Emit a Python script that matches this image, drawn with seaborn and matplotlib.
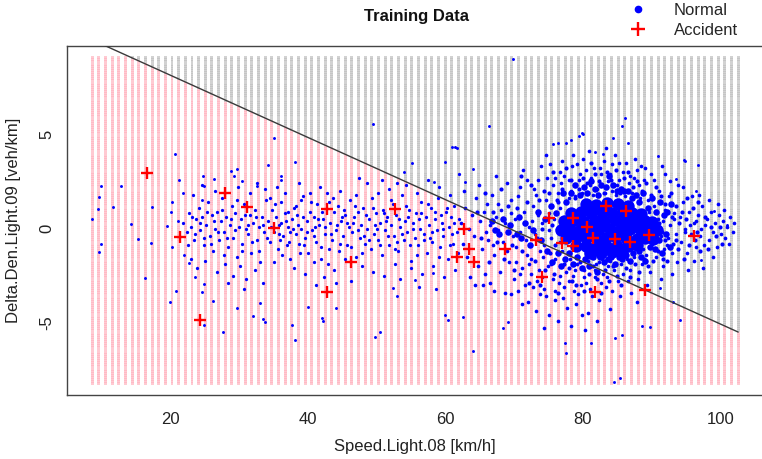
import numpy as np
import pandas as pd
import matplotlib
matplotlib.use("Agg")
import matplotlib.pyplot as plt
import seaborn as sns
from matplotlib.lines import Line2D

sns.set_style("white")
plt.rcParams["font.family"] = ["Liberation Sans", "DejaVu Sans"]
plt.rcParams["axes.unicode_minus"] = False

# ---------------- data ----------------
title = "Training Data"
x_label = "Speed.Light.08 [km/h]"
y_label = "Delta.Den.Light.09 [veh/km]"
legend_labels = ["Normal", "Accident"]
x_ticks = [20, 40, 60, 80, 100]
y_ticks = [-5, 0, 5]
x_limits = (4.9, 106.5)
y_limits = (-8.84, 9.69)

# decision boundary (y = intercept + slope * x)
boundary_intercept = 11.43
boundary_slope = -0.165

# decision-surface grid extent
grid_x_range = (8.55, 102.6)
grid_y_range = (-8.25, 9.07)
grid_columns = 98
grid_rows = 155

accident = [(16.6, 2.95), (21.4, -0.47), (27.9, 1.90), (31.1, 1.12), (35.0, 0.01),
            (24.2, -4.87), (42.8, 1.02), (42.8, -3.35), (46.2, -1.79), (52.7, 1.02),
            (62.7, -0.04), (63.4, -1.10), (61.6, -1.53), (64.2, -1.76), (68.6, -1.10),
            (73.1, -0.61), (74.1, -2.59), (75.1, 0.54), (76.9, -0.75), (78.6, 0.54),
            (78.6, -0.93), (80.6, 0.06), (81.5, -0.49), (81.7, -3.39), (83.3, 1.19),
            (84.6, -0.56), (86.3, 0.94), (86.8, -0.73), (89.0, -3.26), (89.6, -0.35),
            (96.2, -0.40)]

normal_outliers = [
    (8.6, 0.49), (9.4, 1.03), (9.5, 1.66), (9.8, 2.26), (9.8, -0.82), (9.5, -1.23), (11.6, 1.16),
    (12.7, 2.26), (14.2, 0.24), (15.3, -0.57), (17.1, -0.75), (17.2, 1.16), (16.2, -2.64),
    (19.9, -3.92), (20.7, -3.32), (20.6, 3.95), (19.4, 0.15), (20.2, 1.41), (20.1, 0.89),
    (21.1, 0.41), (20.2, -0.97), (21.9, -1.42), (21.2, 2.57), (21.8, 1.87), (24.7, 2.80),
    (26.3, 2.61), (28.7, 3.05), (29.7, 3.14), (29.2, 2.80), (30.4, 2.54), (32.5, 2.26),
    (24.9, 2.26), (24.5, 1.51), (22.7, -1.85), (27.6, -5.49), (24.9, -5.10), (24.6, -3.37),
    (26.2, -3.83), (24.9, -2.95), (23.6, -2.56), (29.6, -4.24), (32.0, -4.64), (33.0, -3.97),
    (49.4, 5.53), (35.0, 4.82), (60.9, 4.34), (55.1, 3.46), (59.9, 3.51), (54.0, 2.98),
    (58.3, 2.48), (34.2, 3.37), (38.1, 3.55), (36.0, 2.80), (36.1, 2.60), (33.4, -4.80),
    (33.7, -4.95), (37.6, -5.12), (38.1, -5.92), (42.0, -4.75), (42.1, -4.90), (44.1, -4.24),
    (40.0, -4.18), (49.7, -5.78), (50.4, -5.48), (52.4, -3.18), (52.9, -3.60), (59.9, -4.60),
    (60.3, -4.86), (58.2, -2.38), (55.6, -2.73), (62.5, -4.72), (64.0, -6.49), (68.4, -5.30),
    (69.1, -4.94), (77.4, -6.09), (77.6, -6.62), (81.2, -6.09), (84.5, -8.13), (85.4, -7.95),
    (84.6, -5.83), (85.7, -5.65), (88.6, -5.17), (89.7, -5.21), (94.1, -4.86), (93.1, -3.88),
    (91.2, -3.18), (97.2, -1.67), (66.3, 5.44), (85.7, 5.44), (80.0, 5.02), (79.4, 4.90),
    (61.4, 4.34), (76.3, 4.52), (77.6, 4.55), (90.9, 3.87), (94.8, 3.58), (81.7, 4.08),
    (82.9, 3.98), (64.0, 3.14), (62.8, 2.48), (93.6, 2.61), (96.5, 2.00), (99.1, 0.94),
    (100.9, 0.19), (69.8, 8.98), (61.6, 4.27), (86.1, 5.85), (79.8, 5.05), (78.3, 4.70),
    (75.6, 4.49), (86.6, 4.52), (94.7, 3.64), (96.8, 3.37), (84.4, 4.82)]

normal_band = [
    (21.8, 0.3), (22.3, -0.2), (22.6, 0.8), (23.0, 0.1), (23.4, -0.6), (23.7, 0.5), (24.1, 1.1),
    (24.3, -0.1), (24.6, 0.6), (24.9, -0.9), (25.2, 0.2), (25.4, 1.4), (25.7, -0.4), (26.0, 0.7),
    (26.2, -1.2), (26.5, 0.0), (26.8, 0.9), (27.0, -0.6), (27.3, 0.4), (27.5, 1.6), (27.8, -0.2),
    (28.1, 0.6), (28.3, -1.0), (28.6, 0.2), (28.9, 1.2), (29.1, -0.5), (29.4, 0.8), (29.6, -1.5),
    (29.9, 0.1), (30.2, 0.5), (30.4, -0.8), (30.7, 1.3), (30.9, 0.0), (31.2, -0.3), (31.5, 0.7),
    (31.7, -1.3), (32.0, 0.3), (32.3, 1.0), (32.5, -0.6), (32.8, 0.1), (33.0, -1.8), (33.3, 0.6),
    (33.6, -0.2), (33.9, 1.5), (22.9, -1.6), (23.8, -2.1), (25.0, -1.7), (26.7, -2.3),
    (27.9, -1.9), (29.0, -2.5), (30.1, -2.0), (31.0, -2.7), (32.2, -2.2), (33.4, -2.9),
    (28.4, -2.9), (30.6, -3.2), (23.3, 1.8), (26.4, 2.0), (29.8, 2.2), (32.6, 2.4), (31.6, 1.9),
    (24.5, 2.3), (33.7, 2.1),
    (34.2, 0.4), (34.5, -0.7), (34.8, 1.0), (35.0, -0.2), (35.3, 0.6), (35.6, -1.1), (35.8, 0.2),
    (36.1, 1.4), (36.3, -0.4), (36.6, 0.8), (36.9, -0.9), (37.1, 0.1), (37.4, -1.6), (37.6, 0.5),
    (37.9, 1.1), (38.2, -0.3), (38.4, 0.7), (38.7, -0.8), (39.0, 0.0), (39.2, 1.7), (39.5, -0.5),
    (39.8, 0.4), (40.0, -1.3), (40.3, 0.9), (40.5, -0.1), (40.8, 0.6), (41.1, -0.7), (41.3, 1.3),
    (41.6, 0.2), (41.9, -1.0), (42.1, 0.5), (42.4, -0.3), (42.7, 1.9), (42.9, -1.9), (43.2, 0.3),
    (43.5, -0.6), (43.7, 0.9), (44.0, -0.1), (44.3, 1.2), (44.5, -1.2), (44.8, 0.4), (45.1, -0.4),
    (45.3, 0.7), (45.6, -0.9), (45.9, 0.1), (46.1, 1.5), (46.4, -0.2), (46.7, 0.6), (46.9, -1.5),
    (47.2, 0.9), (47.5, -0.5), (47.7, 0.2), (48.0, 1.1), (48.3, -0.8), (48.5, 0.0), (48.8, 0.5),
    (49.1, -1.1), (49.3, 1.6), (49.6, -0.3), (49.9, 0.8), (50.1, -0.6), (50.4, 0.3), (50.7, -1.4),
    (50.9, 1.0), (51.2, -0.1), (51.5, 0.6), (51.7, -0.9), (52.0, 0.2), (52.3, 1.3), (52.5, -0.4),
    (52.8, 0.7), (53.1, -1.2), (53.3, 0.1), (53.6, 1.8), (53.9, -0.6), (54.1, 0.4), (54.4, -0.2),
    (54.7, 1.0), (54.9, -1.7), (55.2, 0.3), (55.5, -0.5), (55.7, 0.8), (56.0, -0.9), (56.3, 0.0),
    (56.5, 1.4), (56.8, -0.3), (57.1, 0.6), (57.3, -1.3), (57.6, 0.2), (57.9, 1.1), (58.1, -0.7),
    (58.4, 0.5), (58.7, -0.1), (58.9, 1.6), (59.2, -1.0), (59.5, 0.3), (59.7, -0.4), (60.0, 0.9),
    (60.3, -1.6), (60.5, 0.1), (60.8, 0.6), (61.1, -0.8), (61.3, 1.2), (61.6, -0.2), (61.9, 0.5),
    (34.4, 1.6), (35.1, -1.8), (35.9, -0.6), (36.7, 1.9), (37.3, -0.2), (38.0, -2.1), (38.9, 1.5),
    (39.6, -2.4), (40.2, 1.9), (40.9, -1.8), (41.7, 2.2), (42.3, -2.6), (43.0, 1.4), (43.8, -2.2),
    (44.6, 2.0), (45.4, -1.6), (46.2, -2.8), (47.0, 1.8), (47.8, -2.0), (48.6, 2.4), (49.4, -2.3),
    (50.2, 1.9), (51.0, -2.5), (51.8, 2.1), (52.6, -1.9), (53.4, -2.7), (54.2, 2.3), (55.0, -2.1),
    (55.8, 1.9), (56.6, -2.4), (57.4, 2.6), (58.2, -2.0), (59.0, 2.2), (59.8, -2.6), (60.6, 1.8),
    (61.4, -2.2), (36.0, 0.3), (37.0, 0.9), (38.5, 0.2), (39.4, -0.9), (41.0, 0.1), (42.0, 0.9),
    (43.4, -0.3), (44.9, 0.6), (46.5, 0.3), (48.1, -0.4), (49.7, 0.2), (51.3, 0.4), (52.9, -0.7),
    (54.5, 0.6), (56.1, 0.5), (57.7, -0.5), (59.3, 0.7), (60.9, -0.3)]

normal_band_extra = [
    (22.5, -0.9), (23.1, 0.6), (23.6, -0.3), (24.2, 0.3), (24.8, -0.5), (25.3, 0.9), (25.9, -0.8),
    (26.3, 0.4), (26.9, -0.2), (27.4, 1.0), (27.7, -1.4), (28.2, -0.5), (28.8, 0.5), (29.3, -0.1),
    (29.7, 1.5), (30.3, -1.2), (30.8, 0.7), (31.3, 0.2), (31.9, -0.7), (32.4, 0.6), (32.9, -1.2),
    (33.5, 0.2), (34.0, -0.5), (34.6, 0.1), (35.2, 1.3), (35.7, -0.3), (36.2, -1.4), (36.8, 0.4),
    (37.2, -0.7), (37.8, 0.0), (38.3, 1.2), (38.8, -1.3), (39.3, 0.6), (39.9, -0.2), (40.4, 1.4),
    (40.9, -0.4), (41.4, 0.5), (41.8, -1.6), (42.5, 0.1), (43.1, -1.1), (43.6, 1.6), (44.2, 0.2),
    (44.7, -0.8), (45.2, 1.0), (45.7, 0.3), (46.3, -1.0), (46.8, 1.2), (47.3, -0.1), (47.9, -1.3),
    (48.4, 0.7), (48.9, -0.6), (49.5, 1.1), (50.0, 0.0), (50.5, -0.9), (51.1, 0.8), (51.6, -0.4),
    (52.1, 1.5), (52.7, -1.1), (53.2, 0.5), (53.7, -0.3), (54.3, 1.2), (54.8, -0.9), (55.3, 0.0),
    (55.9, -1.4), (56.4, 0.8), (56.9, -0.6), (57.5, 1.3), (58.0, -0.2), (58.5, 0.9), (59.1, -1.5),
    (59.6, 0.0), (60.2, 1.1), (60.7, -0.9), (61.2, 0.3), (61.8, -1.3), (38.6, 2.4), (44.1, -2.9),
    (50.8, 2.6), (56.2, -3.1), (47.4, 2.7), (53.0, 2.4), (41.2, -3.0), (58.6, -3.2), (35.5, 2.2),
    (62.0, 2.9)]

normal_halo = [
    (62.2, 0.3), (62.5, -0.8), (62.9, 1.1), (63.1, -1.5), (63.4, 0.0), (63.8, 0.7), (64.1, -0.4),
    (64.4, 1.6), (64.7, -2.0), (65.0, 0.4), (65.3, -1.1), (65.6, 0.9), (65.9, -0.2), (62.7, 2.0),
    (63.6, -2.6), (64.9, 2.3), (65.5, -3.0), (66.0, 1.3),
    (66.2, -0.6), (66.5, 0.2), (66.8, 1.8), (67.0, -1.4), (67.3, 0.6), (67.6, -0.1), (67.9, -2.3),
    (68.1, 1.0), (68.4, -0.7), (68.7, 0.3), (69.0, 2.4), (69.2, -1.8), (69.5, 0.8), (69.8, -0.4),
    (66.4, -2.9), (67.4, 2.8), (68.6, -3.4), (69.6, 1.5), (66.9, -0.9), (68.9, -1.2), (67.7, 1.3),
    (69.9, -2.7),
    (70.1, 0.5), (70.3, -1.0), (70.6, 1.7), (70.9, -0.2), (71.1, -2.1), (71.4, 0.9), (71.7, -0.6),
    (71.9, 2.6), (72.2, 0.1), (72.5, -1.6), (72.7, 1.2), (73.0, -0.3), (73.3, -2.8), (73.5, 0.7),
    (73.8, -1.2), (70.5, -3.3), (71.3, 3.1), (72.0, -3.9), (72.9, 2.1), (73.9, 3.3), (70.8, 2.2),
    (71.8, -1.4), (72.4, -2.4), (73.7, -3.5), (70.2, -1.8), (72.6, 0.4), (73.2, 1.8),
    (74.1, 0.3), (74.3, -0.9), (74.6, 1.5), (74.9, -2.0), (75.1, 0.8), (75.4, -0.5), (75.7, 2.3),
    (75.9, -1.6), (76.2, 0.0), (76.5, -2.9), (76.7, 1.1), (77.0, -1.2), (77.3, 2.8), (77.5, -2.3),
    (77.8, 0.6), (74.4, -3.2), (75.2, 3.4), (76.0, -3.8), (76.9, 3.6), (77.7, -4.2), (74.8, 2.7),
    (75.6, -2.7), (76.4, 1.9), (77.2, -3.1), (74.2, -1.5), (75.0, -0.1), (76.6, -0.7), (77.9, 1.6),
    (76.8, 2.4), (75.8, 0.5),
    (78.1, -1.6), (78.3, 2.0), (78.6, -2.5), (78.9, 1.7), (79.1, -1.9), (79.4, 2.6), (79.7, -3.0),
    (79.9, 1.9), (80.2, -2.2), (80.5, 3.1), (80.7, -1.7), (81.0, 2.3), (81.3, -3.6), (81.5, 1.8),
    (81.8, -2.6), (78.4, 3.3), (79.0, -4.0), (80.0, 3.7), (80.8, -4.5), (81.6, 3.2), (78.7, -3.3),
    (79.6, 2.9), (80.4, -2.9), (81.2, 2.7), (81.9, -1.9),
    (82.1, 2.1), (82.4, -1.8), (82.6, 2.9), (82.9, -2.4), (83.2, 1.9), (83.4, -3.1), (83.7, 2.5),
    (84.0, -1.7), (84.3, 3.4), (84.5, -2.2), (84.8, 1.8), (85.1, -2.8), (85.3, 2.6), (85.6, -1.9),
    (85.9, 3.0), (82.3, -3.8), (83.0, 3.6), (83.9, -4.3), (84.7, 3.9), (85.4, -3.6), (82.8, -1.6),
    (83.6, -2.0), (84.2, 2.0), (85.0, 2.3), (85.8, -2.4),
    (86.1, 1.7), (86.4, -1.6), (86.7, 2.4), (86.9, -2.2), (87.2, 1.9), (87.5, -1.5), (87.8, 3.1),
    (88.0, -2.7), (88.3, 1.6), (88.6, -1.9), (88.9, 2.6), (89.2, -1.4), (89.5, 1.5), (89.8, -2.3),
    (86.3, 3.5), (87.0, -3.4), (87.9, -3.9), (88.4, 3.3), (89.3, -3.0), (89.9, 2.9), (86.6, -2.8),
    (87.4, 2.7), (88.8, -1.1), (89.6, 0.9), (86.8, 1.2),
    (90.1, -0.8), (90.3, 1.2), (90.6, -1.5), (90.9, 0.5), (91.1, 2.0), (91.4, -0.4), (91.7, -2.0),
    (91.9, 1.0), (92.2, -0.9), (92.5, 1.7), (92.7, 0.2), (93.0, -1.3), (93.3, 0.8), (93.5, -0.3),
    (93.8, 2.3), (90.4, 2.6), (91.3, -2.7), (92.0, 2.9), (92.9, -2.4), (93.7, -1.8), (90.8, -0.1),
    (91.6, 0.4), (92.4, -0.5), (93.2, 0.5), (90.2, 0.2), (91.8, -1.1),
    (94.1, 0.6), (94.3, -0.7), (94.6, 1.4), (94.9, 0.0), (95.1, -1.3), (95.4, 0.9), (95.7, -0.3),
    (95.9, 1.7), (96.2, 0.3), (96.5, -1.0), (96.7, 0.7), (97.0, -0.4), (97.3, 1.2), (97.5, -2.1),
    (97.8, 0.2), (94.5, 2.2), (95.3, -2.2), (96.1, -1.7), (96.9, 1.8), (97.6, -0.9), (94.8, -0.2),
    (95.6, 0.2), (96.4, 0.4), (97.2, 0.0),
    (98.1, 0.5), (98.4, -0.6), (98.7, 0.9), (98.9, -0.2), (99.2, 0.3), (99.5, -1.0), (99.8, 0.7),
    (100.1, -0.3), (100.4, 0.4), (100.7, -0.5), (101.0, 0.1), (101.4, 0.6), (101.8, -0.2),
    (98.3, 1.5), (99.0, -1.5), (99.7, 1.3), (100.5, 1.0), (101.2, -0.8), (102.0, 0.3),
    (70.9, -2.4), (71.6, -3.0), (72.1, -1.9), (72.8, -3.1), (73.6, -2.2), (74.0, -2.6), (74.6, -3.6),
    (75.3, -1.9), (75.9, -3.3), (76.6, -2.5), (77.1, -3.7), (78.0, -2.8), (78.9, -2.2), (79.3, -3.5),
    (80.1, -2.6), (81.0, -3.2), (81.7, -2.2), (82.6, -2.9), (83.5, -2.6), (84.2, -3.3), (73.1, -4.4),
    (75.0, -4.6), (76.3, -4.9), (78.2, -5.2), (80.3, -5.4), (82.0, -4.9), (79.8, -4.6), (74.3, -5.3),
    (71.2, -4.0), (69.6, -3.5), (67.1, -3.3), (65.8, -2.4), (64.3, -3.0),
    (74.6, 3.9), (76.6, 3.0), (78.6, 3.9), (80.9, 4.1), (83.3, 4.3), (85.2, 3.5), (87.6, 3.7),
    (89.1, 3.2), (91.5, 3.3), (92.6, 2.5), (79.1, 3.4), (82.5, 3.2), (84.0, 2.9), (86.9, 2.8),
    (88.2, 2.3), (77.9, 2.6), (75.9, 2.7), (73.4, 2.6)]

normal_cloud = [
    (64.6, 0.9), (65.2, -0.5), (65.8, 1.9), (66.3, -1.8), (66.9, 0.9), (67.5, -0.7), (68.0, 2.1),
    (68.5, -1.6), (69.1, 1.2), (69.7, -0.9), (70.0, -2.2), (70.4, 1.1), (71.0, 2.8), (71.2, -1.2),
    (71.9, 1.4), (72.1, -2.9), (72.5, 2.3), (73.0, -1.7), (73.6, 1.5), (73.8, -3.0), (74.3, 2.0),
    (74.5, -2.2), (75.0, 1.9), (75.2, -1.3), (75.6, 3.0), (75.8, -2.4), (76.2, 1.5), (76.4, -3.4),
    (76.9, 2.1), (77.2, -1.9), (77.5, 3.2), (77.9, -2.1), (78.2, 2.6), (78.4, -2.8), (78.8, 1.6),
    (79.0, -3.0), (79.4, 2.1), (79.6, -1.8), (80.0, 2.7), (80.2, -3.3), (80.6, 2.4), (80.9, -2.4),
    (81.2, 3.5), (81.4, -2.0), (81.8, 2.9), (82.0, -2.7), (82.4, 2.5), (82.6, -3.4), (83.0, 1.9),
    (83.2, -2.2), (83.5, 3.0), (83.8, -2.8), (84.1, 2.6), (84.4, -2.0), (84.8, 3.1), (85.0, -2.5),
    (85.4, 1.9), (85.6, -3.0), (86.0, 2.7), (86.3, -2.1), (86.6, 3.0), (86.9, -2.6), (87.3, 2.2),
    (87.6, -1.9), (87.9, 2.5), (88.2, -2.3), (88.6, 2.0), (88.9, -1.6), (89.2, 2.4), (89.5, -2.0),
    (89.9, 1.8), (90.2, -1.7), (90.6, 2.2), (90.9, -1.2), (91.3, 1.7), (91.6, -1.6), (92.0, 1.3),
    (92.3, -1.7), (92.8, 1.9), (93.1, -0.8), (93.6, 1.2), (93.9, -1.1), (94.4, 0.9), (94.7, -1.6),
    (95.2, 1.6), (95.5, -0.9), (96.0, 1.1), (96.3, -0.6), (96.8, 1.4), (97.1, -1.2), (97.7, 0.6),
    (98.2, -1.1), (98.6, 0.1), (99.3, -0.4), (99.9, 0.1), (100.3, -0.8), (74.0, 0.0), (75.5, 0.2),
    (73.3, -0.5), (76.0, -0.9), (76.3, 1.4), (91.5, -0.2), (92.9, 0.6), (91.0, 0.3), (92.0, -0.6),
    (94.0, 0.3), (95.0, 0.5), (96.6, -0.2), (93.5, -0.6)]

normal_inner = [
    (72.3, -0.9), (72.8, -0.1), (73.4, 0.9), (73.9, -0.6), (74.5, 0.5), (74.7, -1.2), (75.3, 1.2),
    (75.5, -1.8), (76.1, 0.8), (76.3, -1.3), (76.8, -2.0), (77.1, 1.9), (77.4, -1.6), (77.6, 1.4),
    (78.0, -1.3), (78.2, 1.9), (78.5, -1.9), (78.8, 2.3), (79.2, -1.5), (79.5, 1.8), (79.8, -2.1),
    (80.1, 2.2), (80.3, -1.6), (80.6, 1.9), (80.9, -2.0), (81.1, 2.5), (81.4, -1.5), (81.7, 2.1),
    (82.0, -2.3), (82.2, 1.8), (82.5, -1.5), (82.7, 2.3), (83.1, -1.8), (83.3, 2.2), (83.6, -1.6),
    (83.8, 2.8), (84.1, -1.5), (84.4, 2.3), (84.6, -1.9), (84.9, 2.0), (85.2, -1.5), (85.5, 2.1),
    (85.7, -1.6), (86.0, 2.0), (86.2, -1.4), (86.5, 2.0), (86.9, -1.7), (87.1, 1.6), (87.3, -1.3),
    (87.7, 1.8), (88.1, -1.2), (88.2, 1.4), (88.5, -1.5), (88.7, 1.9), (89.0, -1.7), (89.4, 1.1),
    (89.7, -1.0), (90.0, 1.6), (90.5, -1.1), (90.7, 0.9), (91.0, -0.6), (91.2, 1.4), (91.5, -1.3),
    (91.8, 0.7), (92.1, -0.3), (92.3, 0.9), (92.6, -1.0), (92.8, 1.3), (71.5, 0.3), (71.0, -0.5),
    (70.7, 0.6), (70.4, -0.3), (69.4, 0.2), (69.1, -0.2), (68.3, 0.5), (67.8, -0.3), (67.2, -0.1),
    (66.7, 0.4)]

normal_core = [
    (80.4, 1.32), (81.9, 1.25), (83.5, 1.36), (85.1, 1.28), (86.6, 1.22),
    (78.2, 0.82), (79.7, 0.90), (81.2, 0.84), (82.8, 0.88), (84.3, 0.81), (85.8, 0.90),
    (87.2, 0.83), (88.5, 0.78),
    (77.3, 0.38), (78.7, 0.44), (80.2, 0.37), (81.7, 0.42), (83.1, 0.40), (84.6, 0.45),
    (86.1, 0.36), (87.6, 0.41), (89.0, 0.38), (90.1, 0.33),
    (76.8, -0.06), (78.1, -0.02), (79.5, -0.08), (81.0, -0.03), (82.4, -0.05), (83.9, -0.01),
    (85.4, -0.07), (86.9, -0.04), (88.3, -0.02), (89.7, -0.06), (90.8, -0.10),
    (77.6, -0.50), (79.0, -0.47), (80.4, -0.53), (81.9, -0.49), (83.3, -0.52), (84.8, -0.46),
    (86.3, -0.50), (87.8, -0.54), (89.1, -0.48), (90.2, -0.55),
    (79.0, -0.92), (80.5, -0.95), (82.0, -0.90), (83.5, -0.96), (85.0, -0.91), (86.5, -0.94),
    (87.8, -0.90),
    (81.0, -1.28), (82.6, -1.32), (84.2, -1.27), (85.7, -1.30)]

# ---------------- figure ----------------
W, H = 762, 459
fig = plt.figure(figsize=(W / 100, H / 100), dpi=100)
ax = fig.add_axes([67 / W, 64 / H, 698 / W, 349 / H])

gx = np.linspace(grid_x_range[0], grid_x_range[1], grid_columns)
gy = np.linspace(grid_y_range[0], grid_y_range[1], grid_rows)
GX, GY = np.meshgrid(gx, gy)
above = GY > boundary_intercept + boundary_slope * GX
grid_df = pd.DataFrame({"x": GX.ravel(), "y": GY.ravel(),
                        "cls": np.where(above.ravel(), "Normal", "Accident")})
sns.scatterplot(data=grid_df, x="x", y="y", hue="cls",
                palette={"Normal": "#C0C0C0", "Accident": "#FFB4C0"},
                marker="s", s=4.6, linewidth=0, alpha=0.7, legend=False, ax=ax, zorder=1)

def frame(pts):
    return pd.DataFrame(pts, columns=["x", "y"])

blue = "#0000FF"
sns.scatterplot(data=frame(normal_core), x="x", y="y", color=blue, s=80,
                linewidth=0, ax=ax, zorder=2)
sns.scatterplot(data=frame(normal_inner), x="x", y="y", color=blue, s=22,
                linewidth=0, ax=ax, zorder=2)
sns.scatterplot(data=frame(normal_cloud), x="x", y="y", color=blue, s=9,
                linewidth=0, ax=ax, zorder=3)
sns.scatterplot(data=frame(normal_halo), x="x", y="y", color=blue, s=7,
                linewidth=0, ax=ax, zorder=3)
for pts in (normal_band, normal_band_extra):
    sns.scatterplot(data=frame(pts), x="x", y="y", color=blue, s=5.5,
                    linewidth=0, ax=ax, zorder=3)
sns.scatterplot(data=frame(normal_outliers), x="x", y="y", color=blue, s=4.5,
                linewidth=0, ax=ax, zorder=3)

lx = np.array(grid_x_range)
sns.lineplot(x=lx, y=boundary_intercept + boundary_slope * lx, color="#3a3a3a",
             linewidth=1.0, ax=ax, zorder=4)

sns.scatterplot(data=frame(accident), x="x", y="y", color="#FF0000", marker="+",
                s=80, linewidth=1.7, ax=ax, zorder=5)

ax.set_xlim(*x_limits)
ax.set_ylim(*y_limits)
ax.set_xticks(x_ticks)
ax.set_yticks(y_ticks)
ax.set_xlabel("")
ax.set_ylabel("")
ax.tick_params(axis="both", length=5.8, width=0.8, color="#333333",
               labelsize=12, labelcolor="#222222")
ax.tick_params(axis="x", pad=6.5)
ax.tick_params(axis="y", pad=3.5)
for lab in ax.get_yticklabels():
    lab.set_rotation(90)
    lab.set_va("center")
for sp in ax.spines.values():
    sp.set_color("#444444")
    sp.set_linewidth(1.0)

fig.text(416 / W, 1 - 16 / H, title, ha="center", va="center",
         fontsize=12, fontweight="bold", color="#111111")
fig.text(415 / W, 1 - 446 / H, x_label, ha="center", va="center",
         fontsize=12, color="#222222")
fig.text(14 / W, 1 - 220 / H, y_label, ha="center", va="center",
         rotation=90, fontsize=12, color="#222222")

handles = [Line2D([], [], marker="o", color=blue, linestyle="", markersize=4.5),
           Line2D([], [], marker="+", color="#FF0000", linestyle="", markersize=10,
                  markeredgewidth=1.7)]
fig.legend(handles, legend_labels, loc="upper left",
           bbox_to_anchor=(612 / W, 1 + 12 / H), frameon=False, fontsize=12,
           handlelength=1.3, handletextpad=1.5, labelspacing=0.32, borderpad=0.4)

fig.savefig("out.png", dpi=100)
